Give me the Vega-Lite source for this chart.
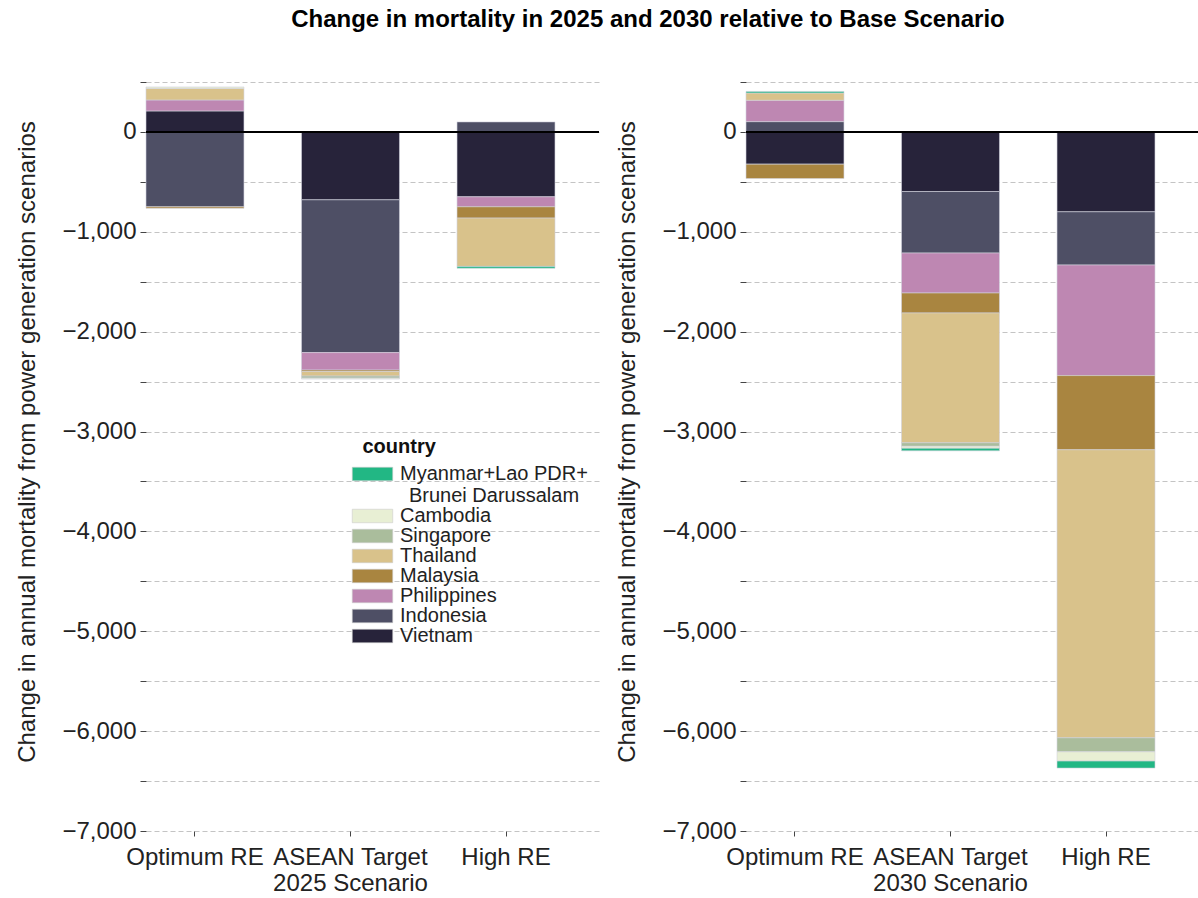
{
  "$schema": "https://vega.github.io/schema/vega-lite/v6.json",
  "background": "white",
  "padding": {"left": 15, "top": 8, "right": 0, "bottom": 0},
  "autosize": {"type": "pad"},
  "title": {"text": "Change in mortality in 2025 and 2030 relative to Base Scenario", "fontSize": 24, "font": "Liberation Sans", "fontWeight": "bold", "anchor": "middle", "dx": 40, "offset": 20, "color": "#000000"},
  "config": {
    "font": "Liberation Sans",
    "view": {"stroke": null},
    "concat": {"spacing": 15},
    "axisX": {
      "labelAngle": 0, "labelFontSize": 24, "labelColor": "#222222", "labelPadding": 9,
      "tickSize": 5, "tickColor": "#444444", "domain": false, "grid": false,
      "titleFontSize": 24, "titleFontWeight": "normal", "titleColor": "#222222", "titlePadding": 2, "titleX": 204
    },
    "axisY": {
      "values": [-7000,-6750,-6500,-6250,-6000,-5750,-5500,-5250,-5000,-4750,-4500,-4250,-4000,-3750,-3500,-3250,-3000,-2750,-2500,-2250,-2000,-1750,-1500,-1250,-1000,-750,-500,-250,0,250,500,750],
      "labelExpr": "datum.value % 1000 == 0 ? format(datum.value, ',') : ''",
      "grid": true, "gridDash": [5, 3], "gridColor": "#c4c4c4", "gridWidth": 1.2,
      "domain": false,
      "tickColor": "#444444",
      "tickSize": {"condition": {"test": "datum.value % 500 == 0", "value": 6}, "value": 3},
      "labelFontSize": 24, "labelColor": "#222222", "labelPadding": 4,
      "titleFontSize": 24, "titleFontWeight": "normal", "titleColor": "#222222", "titlePadding": 22
    }
  },
  "data": {"values": [
    {"year": "2025", "scenario": "Optimum RE", "country": "Vietnam", "value": 210},
    {"year": "2025", "scenario": "Optimum RE", "country": "Philippines", "value": 110},
    {"year": "2025", "scenario": "Optimum RE", "country": "Thailand", "value": 115},
    {"year": "2025", "scenario": "Optimum RE", "country": "Cambodia", "value": 15},
    {"year": "2025", "scenario": "Optimum RE", "country": "Indonesia", "value": -750},
    {"year": "2025", "scenario": "Optimum RE", "country": "Malaysia", "value": -15},
    {"year": "2025", "scenario": "ASEAN Target", "country": "Vietnam", "value": -680},
    {"year": "2025", "scenario": "ASEAN Target", "country": "Indonesia", "value": -1530},
    {"year": "2025", "scenario": "ASEAN Target", "country": "Philippines", "value": -175},
    {"year": "2025", "scenario": "ASEAN Target", "country": "Malaysia", "value": -15},
    {"year": "2025", "scenario": "ASEAN Target", "country": "Thailand", "value": -45},
    {"year": "2025", "scenario": "ASEAN Target", "country": "Singapore", "value": -20},
    {"year": "2025", "scenario": "ASEAN Target", "country": "Cambodia", "value": -10},
    {"year": "2025", "scenario": "High RE", "country": "Indonesia", "value": 100},
    {"year": "2025", "scenario": "High RE", "country": "Vietnam", "value": -650},
    {"year": "2025", "scenario": "High RE", "country": "Philippines", "value": -100},
    {"year": "2025", "scenario": "High RE", "country": "Malaysia", "value": -113},
    {"year": "2025", "scenario": "High RE", "country": "Thailand", "value": -484},
    {"year": "2025", "scenario": "High RE", "country": "Myanmar+Lao PDR+ Brunei Darussalam", "value": -18},
    {"year": "2030", "scenario": "Optimum RE", "country": "Indonesia", "value": 103},
    {"year": "2030", "scenario": "Optimum RE", "country": "Philippines", "value": 214},
    {"year": "2030", "scenario": "Optimum RE", "country": "Thailand", "value": 73},
    {"year": "2030", "scenario": "Optimum RE", "country": "Myanmar+Lao PDR+ Brunei Darussalam", "value": 15},
    {"year": "2030", "scenario": "Optimum RE", "country": "Vietnam", "value": -323},
    {"year": "2030", "scenario": "Optimum RE", "country": "Malaysia", "value": -144},
    {"year": "2030", "scenario": "ASEAN Target", "country": "Vietnam", "value": -597},
    {"year": "2030", "scenario": "ASEAN Target", "country": "Indonesia", "value": -616},
    {"year": "2030", "scenario": "ASEAN Target", "country": "Philippines", "value": -400},
    {"year": "2030", "scenario": "ASEAN Target", "country": "Malaysia", "value": -200},
    {"year": "2030", "scenario": "ASEAN Target", "country": "Thailand", "value": -1300},
    {"year": "2030", "scenario": "ASEAN Target", "country": "Singapore", "value": -35},
    {"year": "2030", "scenario": "ASEAN Target", "country": "Cambodia", "value": -20},
    {"year": "2030", "scenario": "ASEAN Target", "country": "Myanmar+Lao PDR+ Brunei Darussalam", "value": -25},
    {"year": "2030", "scenario": "High RE", "country": "Vietnam", "value": -800},
    {"year": "2030", "scenario": "High RE", "country": "Indonesia", "value": -533},
    {"year": "2030", "scenario": "High RE", "country": "Philippines", "value": -1107},
    {"year": "2030", "scenario": "High RE", "country": "Malaysia", "value": -743},
    {"year": "2030", "scenario": "High RE", "country": "Thailand", "value": -2884},
    {"year": "2030", "scenario": "High RE", "country": "Singapore", "value": -140},
    {"year": "2030", "scenario": "High RE", "country": "Cambodia", "value": -93},
    {"year": "2030", "scenario": "High RE", "country": "Myanmar+Lao PDR+ Brunei Darussalam", "value": -70}
  ]},
  "transform": [
    {"calculate": "indexof(['Vietnam','Indonesia','Philippines','Malaysia','Thailand','Singapore','Cambodia','Myanmar+Lao PDR+ Brunei Darussalam'], datum.country)", "as": "stackRank"}
  ],
  "hconcat": [
    {
      "width": 453, "height": 779,
      "transform": [{"filter": "datum.year == '2025'"}],
      "layer": [
        {
          "mark": {"type": "bar", "stroke": "#d2d2de", "strokeWidth": 0.6},
          "encoding": {
            "x": {"field": "scenario", "type": "nominal", "sort": ["Optimum RE", "ASEAN Target", "High RE"], "scale": {"paddingInner": 0.37, "paddingOuter": 0.1415, "align": 0}, "axis": {"title": "2025 Scenario"}},
            "y": {"field": "value", "type": "quantitative", "stack": "zero", "scale": {"domain": [-7000, 800], "nice": false, "zero": false}, "axis": {"title": "Change in annual mortality from power generation scenarios"}},
            "color": {"field": "country", "type": "nominal",
              "scale": {"domain": ["Myanmar+Lao PDR+ Brunei Darussalam", "Cambodia", "Singapore", "Thailand", "Malaysia", "Philippines", "Indonesia", "Vietnam"],
                        "range": ["#22b784", "#e8efd4", "#aabd9c", "#d9c28b", "#a98540", "#be87b2", "#4e4f65", "#27233a"]},
              "legend": {"title": "country", "orient": "none", "legendX": 216.5, "legendY": 385,
                "titleFontSize": 20, "titleFontWeight": "bold", "titleColor": "#111111", "titlePadding": 7,
                "labelFontSize": 20, "labelColor": "#222222", "labelOffset": 17.5, "labelLimit": 400,
                "symbolType": "M-3,-1H3V1H-3Z", "symbolSize": 182, "symbolStrokeColor": "#cccccc", "symbolStrokeWidth": 0.6, "symbolOpacity": 1,
                "rowPadding": 0,
                "labelExpr": "datum.label == 'Myanmar+Lao PDR+ Brunei Darussalam' ? ['Myanmar+Lao PDR+', 'Brunei Darussalam'] : datum.label",
                "encode": {"labels": {"update": {
                  "align": {"signal": "datum.label == 'Myanmar+Lao PDR+ Brunei Darussalam' ? 'center' : 'left'"},
                  "dx": {"signal": "datum.label == 'Myanmar+Lao PDR+ Brunei Darussalam' ? 94 : 0"}
                }}}}
            },
            "order": {"field": "stackRank", "type": "quantitative"}
          }
        },
        {"mark": {"type": "rule", "color": "#000000", "strokeWidth": 2}, "encoding": {"y": {"datum": 0}}}
      ]
    },
    {
      "width": 453, "height": 779,
      "transform": [{"filter": "datum.year == '2030'"}],
      "layer": [
        {
          "mark": {"type": "bar", "stroke": "#d2d2de", "strokeWidth": 0.6},
          "encoding": {
            "x": {"field": "scenario", "type": "nominal", "sort": ["Optimum RE", "ASEAN Target", "High RE"], "scale": {"paddingInner": 0.37, "paddingOuter": 0.1415, "align": 0}, "axis": {"title": "2030 Scenario"}},
            "y": {"field": "value", "type": "quantitative", "stack": "zero", "scale": {"domain": [-7000, 800], "nice": false, "zero": false}, "axis": {"title": "Change in annual mortality from power generation scenarios"}},
            "color": {"field": "country", "type": "nominal"},
            "order": {"field": "stackRank", "type": "quantitative"}
          }
        },
        {"mark": {"type": "rule", "color": "#000000", "strokeWidth": 2}, "encoding": {"y": {"datum": 0}}}
      ]
    }
  ]
}
